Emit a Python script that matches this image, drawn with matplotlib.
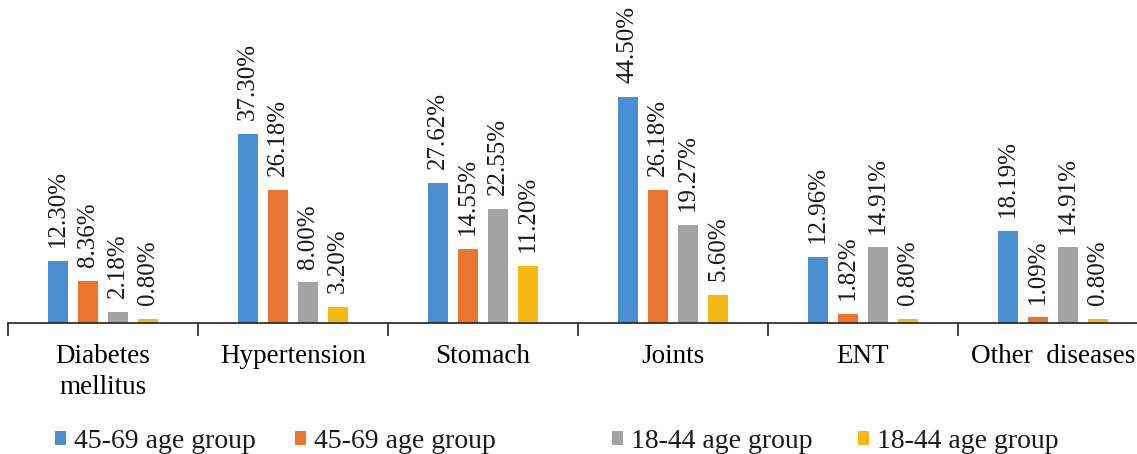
from typing import List

import numpy as np
from matplotlib import pyplot as plt
from matplotlib.patches import Patch

categories: List[str] = [
    "Diabetes\nmellitus",
    "Hypertension",
    "Stomach",
    "Joints",
    "ENT",
    "Other  diseases",
]
seriesNames: List[str] = [
    "45-69 age group",
    "45-69 age group",
    "18-44 age group",
    "18-44 age group",
]
blueValues: List[float] = [12.30, 37.30, 27.62, 44.50, 12.96, 18.19]
orangeValues: List[float] = [8.36, 26.18, 14.55, 26.18, 1.82, 1.09]
grayValues: List[float] = [2.18, 8.00, 22.55, 19.27, 14.91, 14.91]
yellowValues: List[float] = [0.80, 3.20, 11.20, 5.60, 0.80, 0.80]

colors: List[str] = ["#4A8FD2", "#EA7430", "#A3A3A3", "#F6B914"]
legendX: List[float] = [0.0484, 0.2595, 0.5385, 0.7546]

plt.rcParams["font.family"] = ["Liberation Serif", "DejaVu Serif"]
plt.rcParams["text.color"] = "#1a1a1a"


def plot(outputFilePath: str) -> None:
    fig = plt.figure(figsize=(11.37, 4.54), dpi=100)
    # axes runs slightly past the right edge so the last group is cropped
    ax = fig.add_axes([8 / 1137, 131 / 454, 1140 / 1137, 323 / 454])

    allSeries: List[List[float]] = [blueValues, orangeValues, grayValues, yellowValues]
    x = np.arange(len(categories))
    step: float = 30 / 190
    width: float = 20 / 190

    for i, values in enumerate(allSeries):
        offsets = x + (i - 1.5) * step
        bars = ax.bar(offsets, values, width=width, color=colors[i], zorder=2)
        for bar, value in zip(bars, values):
            ax.annotate(
                f"{value:.2f}%",
                xy=(bar.get_x() + bar.get_width() / 2, bar.get_height()),
                xytext=(0, 10),
                textcoords="offset points",
                rotation=90,
                ha="center",
                va="bottom",
                fontsize=18,
            )

    ax.set_xlim(-0.5, 5.5)
    ax.set_ylim(0, 323 / 5.07)

    for side in ["top", "left", "right"]:
        ax.spines[side].set_visible(False)
    ax.spines["bottom"].set_linewidth(1.2)
    ax.spines["bottom"].set_color("#222222")
    ax.set_yticks([])

    ax.set_xticks(x)
    ax.set_xticklabels(categories, fontsize=19.5, linespacing=1.3)
    ax.tick_params(axis="x", which="major", length=0, pad=15)
    ax.set_xticks(np.arange(-0.5, 6.0, 1.0), minor=True)
    ax.tick_params(axis="x", which="minor", length=9, width=1.2, direction="out", color="#222222")

    for i, name in enumerate(seriesNames):
        fig.legend(
            handles=[Patch(facecolor=colors[i], label=name)],
            loc="center left",
            bbox_to_anchor=(legendX[i], 0.027),
            frameon=False,
            fontsize=20,
            handlelength=0.38,
            handleheight=0.38,
            handletextpad=0.3,
            borderpad=0,
            borderaxespad=0,
        )

    plt.savefig(outputFilePath, dpi=100)


def main() -> None:
    plot(outputFilePath="out.png")


if __name__ == "__main__":
    main()
